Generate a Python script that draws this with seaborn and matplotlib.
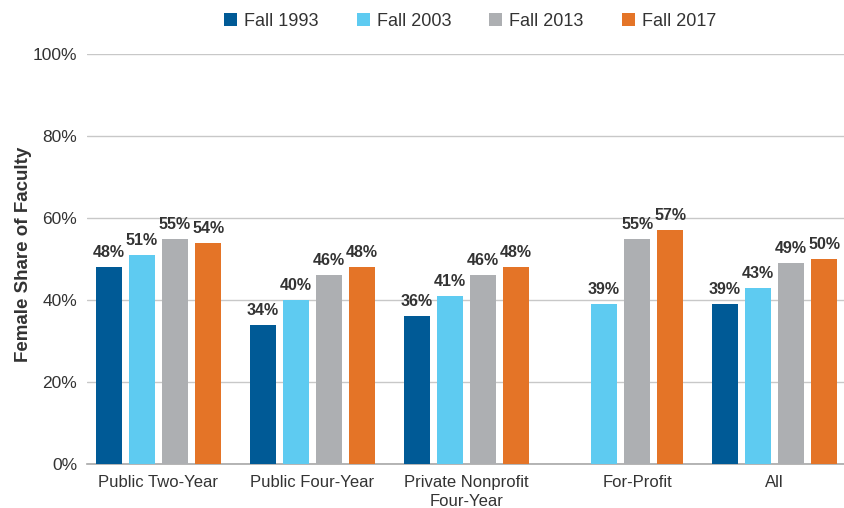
import numpy as np
import pandas as pd
import matplotlib
matplotlib.use("Agg")
import matplotlib.pyplot as plt
import seaborn as sns

categories = ["Public Two-Year", "Public Four-Year", "Private Nonprofit\nFour-Year", "For-Profit", "All"]
years = ["Fall 1993", "Fall 2003", "Fall 2013", "Fall 2017"]
fall_1993 = [48, 34, 36, np.nan, 39]
fall_2003 = [51, 40, 41, 39, 43]
fall_2013 = [55, 46, 46, 55, 49]
fall_2017 = [54, 48, 48, 57, 50]
colors = ["#005a96", "#5ecbf1", "#adafb2", "#e47427"]
y_ticks = [0, 20, 40, 60, 80, 100]

series = [fall_1993, fall_2003, fall_2013, fall_2017]
rows = []
for yr, vals in zip(years, series):
    for cat, v in zip(categories, vals):
        rows.append({"Sector": cat, "Year": yr, "Share": v})
df = pd.DataFrame(rows)

sns.set_theme(style="white")
plt.rcParams["font.family"] = ["Liberation Sans", "DejaVu Sans"]
text_color = "#333333"
grid_color = "#c8c8c8"

fig = plt.figure(figsize=(8.44, 5.08), dpi=100)
ax = fig.add_axes([87 / 844, 1 - 464 / 508, (844 - 87) / 844, (464 - 54) / 508])

sns.barplot(data=df, x="Sector", y="Share", hue="Year", order=categories,
            hue_order=years, palette=colors, width=0.86, gap=0.22,
            saturation=1, linewidth=0, ax=ax, legend=True, zorder=3)

for container in ax.containers:
    labels = [("" if np.isnan(v) else f"{v:.0f}%") for v in container.datavalues]
    ax.bar_label(container, labels=labels, padding=5, fontsize=11.5,
                 fontweight="bold", color=text_color)

# center each category label over the bars actually drawn in it
centers = []
for i in range(len(categories)):
    xs = [p.get_x() + p.get_width() / 2 for p in ax.patches
          if p.get_height() > 0 and abs(p.get_x() + p.get_width() / 2 - i) < 0.5]
    centers.append(np.mean(xs))
ax.set_xticks(centers)
ax.set_xticklabels(categories, fontsize=12, color=text_color, linespacing=1.3)

ax.set_xlim(-0.464, 4.451)
ax.set_ylim(0, 100)
ax.set_yticks(y_ticks)
ax.set_yticklabels([f"{t}%" for t in y_ticks], fontsize=12.5, color=text_color)
ax.yaxis.grid(True, color=grid_color, linewidth=1, zorder=0)
ax.set_axisbelow(True)
ax.tick_params(axis="y", length=0, pad=7)
ax.tick_params(axis="x", length=0, pad=8)

for s in ["top", "right", "left"]:
    ax.spines[s].set_visible(False)
ax.spines["bottom"].set_color("#a8a8a8")
ax.spines["bottom"].set_linewidth(1.2)

ax.set_xlabel("")
ax.set_ylabel("Female Share of Faculty", fontsize=13.5, fontweight="bold",
              color=text_color)
ax.yaxis.set_label_coords(-0.0727, 0.511)

handles, labs = ax.get_legend_handles_labels()
ax.legend_.remove()
fig.legend(handles, labs, loc="center", bbox_to_anchor=(0.557, 0.958), ncol=4,
           frameon=False, fontsize=13, handlelength=0.72, handleheight=0.72,
           handletextpad=0.4, columnspacing=2.1, labelcolor=text_color)

fig.savefig("out.png", dpi=100)
